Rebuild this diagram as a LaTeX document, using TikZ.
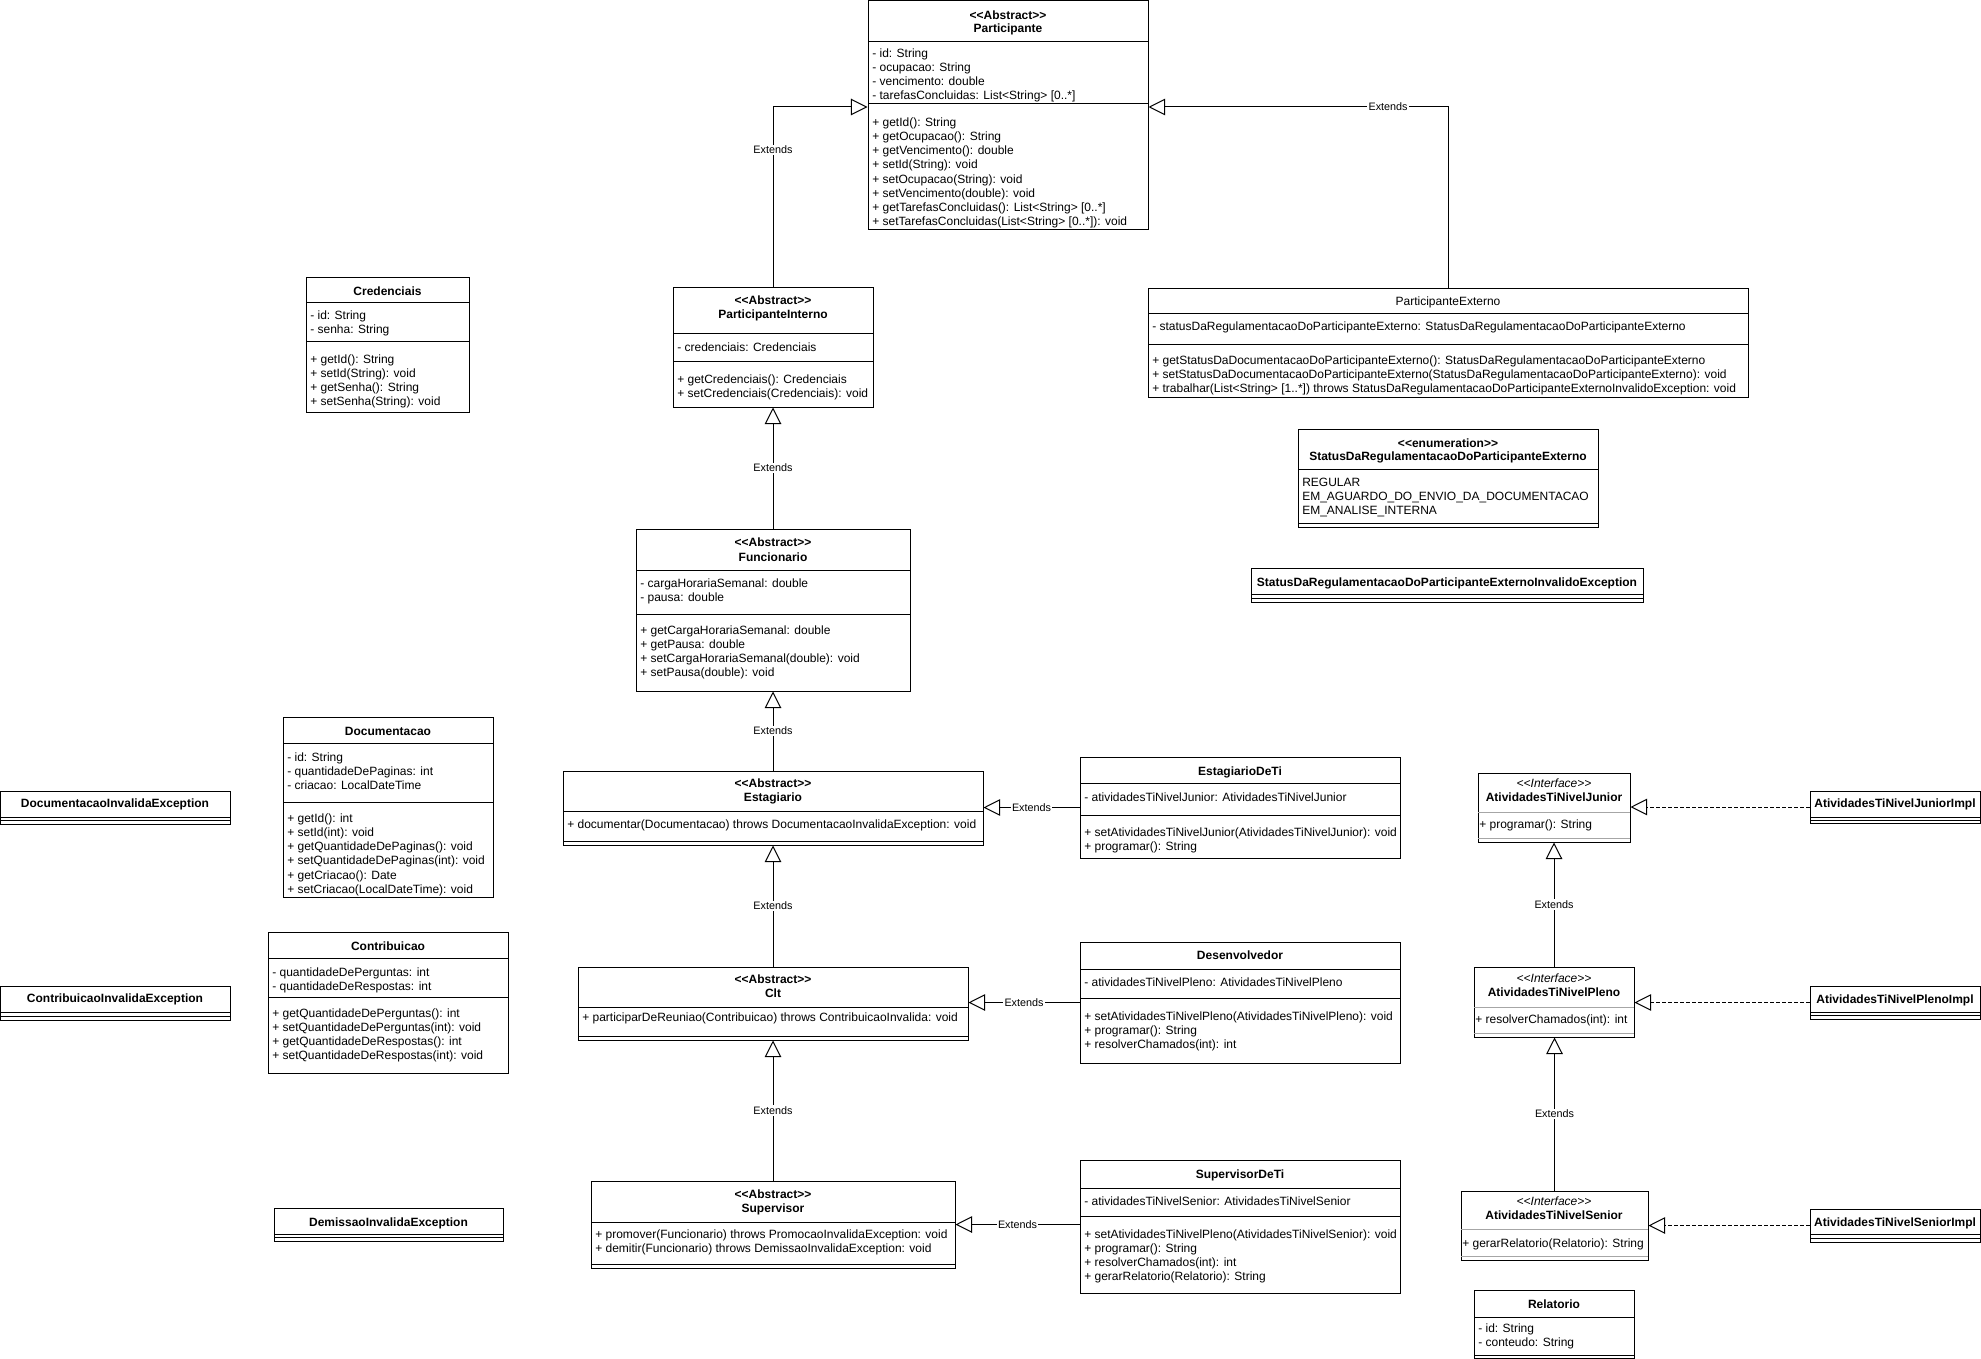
\documentclass[tikz,border=0pt]{standalone}
\usepackage{fontspec}
\setmainfont{Liberation Sans}
\usetikzlibrary{fit,arrows.meta}
\tikzset{
  box/.style={draw, line width=0.75pt, inner sep=0pt, fill=white},
  sep/.style={line width=0.75pt},
  gsep/.style={line width=0.75pt, draw=black!35},
  row/.style={anchor=west, inner sep=0pt, font=\fontsize{9pt}{10.5pt}\selectfont, text height=6.45pt, text depth=0pt},
  hdr/.style={anchor=center, inner sep=0pt, font=\fontsize{9pt}{10.5pt}\selectfont\bfseries, text height=6.45pt, text depth=0pt},
  hdrn/.style={hdr, font=\fontsize{9pt}{10.5pt}\selectfont},
  ster/.style={hdr, font=\fontsize{9pt}{10.5pt}\selectfont\itshape},
  ext/.style={line width=0.75pt, -{Triangle[open, length=12.5pt, width=12.5pt]}},
  real/.style={ext, dash pattern=on 2.5pt off 2pt},
  lbl/.style={fill=white, inner sep=1pt, font=\fontsize{8.1pt}{9pt}\selectfont, text height=5.8pt, text depth=0pt},
}
\newcommand\umlclass[5]{\node[box, fit={(#2,#3)(#4,#5)}] (#1) {};}
\newcommand\divline[3]{\draw[sep] (#1,#3) -- (#2,#3);}
\newcommand\gdivline[3]{\draw[gsep] (#1,#3) -- (#2,#3);}
\newcommand\rows[4]{\foreach \t [count=\i] in {#4}{\node[row] (#1-\i) at (#2,{#3+(\i-1)*14.2}) {\t};}}
\begin{document}
\begin{tikzpicture}[x=0.75pt, y=-0.75pt]
\useasboundingbox (0,0) rectangle (1981,1359);

% Participante
\umlclass{P}{868}{1}{1148}{229}
\divline{868}{1148}{42}\divline{868}{1148}{104}
\node[hdr] (P-s) at (1008,15) {<{}<Abstract>{}>};
\node[hdr] (P-n) at (1008,28) {Participante};
\rows{P-a}{872}{53}{- id: String, - ocupacao: String, - vencimento: double, - tarefasConcluidas: List<String> [0..*]}
\rows{P-m}{872}{122}{+ getId(): String, + getOcupacao(): String, + getVencimento(): double, + setId(String): void, + setOcupacao(String): void, + setVencimento(double): void, + getTarefasConcluidas(): List<String> [0..*], + setTarefasConcluidas(List<String> [0..*]): void}

% ParticipanteInterno
\umlclass{PI}{673}{287}{873}{407}
\divline{673}{873}{333}\divline{673}{873}{361}
\node[hdr] (PI-s) at (773,300) {<{}<Abstract>{}>};
\node[hdr] (PI-n) at (773,314) {ParticipanteInterno};
\rows{PI-a}{677}{347}{- credenciais: Credenciais}
\rows{PI-m}{677}{379}{+ getCredenciais(): Credenciais, + setCredenciais(Credenciais): void}

% Credenciais
\umlclass{CR}{306}{277}{469}{412}
\divline{306}{469}{302}\divline{306}{469}{341}
\node[hdr] (CR-n) at (387.5,291) {Credenciais};
\rows{CR-a}{310}{315}{- id: String, - senha: String}
\rows{CR-m}{310}{359}{+ getId(): String, + setId(String): void, + getSenha(): String, + setSenha(String): void}

% ParticipanteExterno
\umlclass{PE}{1148}{288}{1748}{397}
\divline{1148}{1748}{313}\divline{1148}{1748}{344}
\node[hdrn] (PE-n) at (1448,301) {ParticipanteExterno};
\rows{PE-a}{1152}{326}{- statusDaRegulamentacaoDoParticipanteExterno: StatusDaRegulamentacaoDoParticipanteExterno}
\rows{PE-m}{1152}{360}{+ getStatusDaDocumentacaoDoParticipanteExterno(): StatusDaRegulamentacaoDoParticipanteExterno, + setStatusDaDocumentacaoDoParticipanteExterno(StatusDaRegulamentacaoDoParticipanteExterno): void, + trabalhar(List<String> [1..*]) throws StatusDaRegulamentacaoDoParticipanteExternoInvalidoException: void}

% Enumeration
\umlclass{EN}{1298}{429}{1598}{527}
\divline{1298}{1598}{469}\divline{1298}{1598}{523}
\node[hdr] (EN-s) at (1448,443) {<{}<enumeration>{}>};
\node[hdr] (EN-n) at (1448,456) {StatusDaRegulamentacaoDoParticipanteExterno};
\rows{EN-a}{1302}{482}{REGULAR, EM\_AGUARDO\_DO\_ENVIO\_DA\_DOCUMENTACAO, EM\_ANALISE\_INTERNA}

% Status exception
\umlclass{SE}{1251}{568}{1643}{602}
\divline{1251}{1643}{594}\divline{1251}{1643}{598}
\node[hdr] (SE-n) at (1447,582) {StatusDaRegulamentacaoDoParticipanteExternoInvalidoException};

% Funcionario
\umlclass{FU}{636}{529}{910}{691}
\divline{636}{910}{570}\divline{636}{910}{614}
\node[hdr] (FU-s) at (773,542) {<{}<Abstract>{}>};
\node[hdr] (FU-n) at (773,557) {Funcionario};
\rows{FU-a}{640}{583}{- cargaHorariaSemanal: double, - pausa: double}
\rows{FU-m}{640}{630}{+ getCargaHorariaSemanal: double, + getPausa: double, + setCargaHorariaSemanal(double): void, + setPausa(double): void}

% Documentacao
\umlclass{DO}{283}{717}{493}{897}
\divline{283}{493}{743}\divline{283}{493}{802}
\node[hdr] (DO-n) at (388,731) {Documentacao};
\rows{DO-a}{287}{757}{- id: String, - quantidadeDePaginas: int, - criacao: LocalDateTime}
\rows{DO-m}{287}{818}{+ getId(): int, + setId(int): void, + getQuantidadeDePaginas(): void, + setQuantidadeDePaginas(int): void, + getCriacao(): Date, + setCriacao(LocalDateTime): void}

% DocumentacaoInvalidaException
\umlclass{DE}{0.5}{791}{230}{824}
\divline{0.5}{230}{817}\divline{0.5}{230}{820}
\node[hdr] (DE-n) at (115,803) {DocumentacaoInvalidaException};

% Estagiario
\umlclass{ES}{563}{771}{983}{845}
\divline{563}{983}{811}\divline{563}{983}{841}
\node[hdr] (ES-s) at (773,783) {<{}<Abstract>{}>};
\node[hdr] (ES-n) at (773,797) {Estagiario};
\rows{ES-m}{567}{824}{+ documentar(Documentacao) throws DocumentacaoInvalidaException: void}

% EstagiarioDeTi
\umlclass{EDT}{1080}{757}{1400}{858}
\divline{1080}{1400}{783}\divline{1080}{1400}{815}
\node[hdr] (EDT-n) at (1240,771) {EstagiarioDeTi};
\rows{EDT-a}{1084}{797}{- atividadesTiNivelJunior: AtividadesTiNivelJunior}
\rows{EDT-m}{1084}{832}{+ setAtividadesTiNivelJunior(AtividadesTiNivelJunior): void, + programar(): String}

% Contribuicao
\umlclass{CO}{268}{932}{508}{1073}
\divline{268}{508}{958}\divline{268}{508}{997}
\node[hdr] (CO-n) at (388,946) {Contribuicao};
\rows{CO-a}{272}{972}{- quantidadeDePerguntas: int, - quantidadeDeRespostas: int}
\rows{CO-m}{272}{1013}{+ getQuantidadeDePerguntas(): int, + setQuantidadeDePerguntas(int): void, + getQuantidadeDeRespostas(): int, + setQuantidadeDeRespostas(int): void}

% ContribuicaoInvalidaException
\umlclass{CE}{0.5}{986}{230}{1020}
\divline{0.5}{230}{1012}\divline{0.5}{230}{1016}
\node[hdr] (CE-n) at (115,998) {ContribuicaoInvalidaException};

% Clt
\umlclass{CL}{578}{967}{968}{1040}
\divline{578}{968}{1007}\divline{578}{968}{1036}
\node[hdr] (CL-s) at (773,979) {<{}<Abstract>{}>};
\node[hdr] (CL-n) at (773,993) {Clt};
\rows{CL-m}{582}{1017}{+ participarDeReuniao(Contribuicao) throws ContribuicaoInvalida: void}

% Desenvolvedor
\umlclass{DV}{1080}{942}{1400}{1063}
\divline{1080}{1400}{969}\divline{1080}{1400}{998}
\node[hdr] (DV-n) at (1240,955) {Desenvolvedor};
\rows{DV-a}{1084}{982}{- atividadesTiNivelPleno: AtividadesTiNivelPleno}
\rows{DV-m}{1084}{1016}{+ setAtividadesTiNivelPleno(AtividadesTiNivelPleno): void, + programar(): String, + resolverChamados(int): int}

% Supervisor
\umlclass{SU}{591}{1181}{955}{1268}
\divline{591}{955}{1222}\divline{591}{955}{1264}
\node[hdr] (SU-s) at (773,1194) {<{}<Abstract>{}>};
\node[hdr] (SU-n) at (773,1208) {Supervisor};
\rows{SU-m}{595}{1234}{+ promover(Funcionario) throws PromocaoInvalidaException: void, + demitir(Funcionario) throws DemissaoInvalidaException: void}

% DemissaoInvalidaException
\umlclass{DM}{274}{1208}{503}{1241}
\divline{274}{503}{1234}\divline{274}{503}{1237}
\node[hdr] (DM-n) at (388.5,1222) {DemissaoInvalidaException};

% SupervisorDeTi
\umlclass{SDT}{1080}{1160}{1400}{1293}
\divline{1080}{1400}{1188}\divline{1080}{1400}{1216}
\node[hdr] (SDT-n) at (1240,1174) {SupervisorDeTi};
\rows{SDT-a}{1084}{1201}{- atividadesTiNivelSenior: AtividadesTiNivelSenior}
\rows{SDT-m}{1084}{1234}{+ setAtividadesTiNivelPleno(AtividadesTiNivelSenior): void, + programar(): String, + resolverChamados(int): int, + gerarRelatorio(Relatorio): String}

% Interfaces
\umlclass{AJ}{1478}{773}{1630}{842}
\gdivline{1478}{1630}{812}\gdivline{1478}{1630}{838}
\node[ster] (AJ-s) at (1554,783) {<{}<Interface>{}>};
\node[hdr] (AJ-n) at (1554,797) {AtividadesTiNivelJunior};
\rows{AJ-m}{1479}{824}{+ programar(): String}

\umlclass{AJI}{1810}{791}{1980}{823}
\divline{1810}{1980}{817}\divline{1810}{1980}{820}
\node[hdr] (AJI-n) at (1895,803) {AtividadesTiNivelJuniorImpl};

\umlclass{AP}{1474}{967}{1634}{1037}
\gdivline{1474}{1634}{1007}\gdivline{1474}{1634}{1033}
\node[ster] (AP-s) at (1554,978) {<{}<Interface>{}>};
\node[hdr] (AP-n) at (1554,992) {AtividadesTiNivelPleno};
\rows{AP-m}{1475}{1019}{+ resolverChamados(int): int}

\umlclass{API}{1810}{986}{1980}{1019}
\divline{1810}{1980}{1012}\divline{1810}{1980}{1015}
\node[hdr] (API-n) at (1895,999) {AtividadesTiNivelPlenoImpl};

\umlclass{AS}{1461}{1191}{1648}{1260}
\gdivline{1461}{1648}{1229}\gdivline{1461}{1648}{1256}
\node[ster] (AS-s) at (1554,1201) {<{}<Interface>{}>};
\node[hdr] (AS-n) at (1554,1215) {AtividadesTiNivelSenior};
\rows{AS-m}{1462}{1243}{+ gerarRelatorio(Relatorio): String}

\umlclass{ASI}{1810}{1209}{1980}{1242}
\divline{1810}{1980}{1234}\divline{1810}{1980}{1238}
\node[hdr] (ASI-n) at (1895,1222) {AtividadesTiNivelSeniorImpl};

% Relatorio
\umlclass{RE}{1474}{1290}{1634}{1358}
\divline{1474}{1634}{1317}\divline{1474}{1634}{1355}
\node[hdr] (RE-n) at (1554,1304) {Relatorio};
\rows{RE-a}{1478}{1328}{- id: String, - conteudo: String}

% Connectors
\draw[ext] (PI.north) |- node[lbl, pos=0.38] {Extends} (P.west |- 0,107);
\draw[ext] (PE.north) |- node[lbl, pos=0.6] {Extends} (P.east |- 0,107);
\draw[ext] (FU.north) -- node[lbl] {Extends} (PI.south);
\draw[ext] (ES.north) -- node[lbl] {Extends} (FU.south);
\draw[ext] (CL.north) -- node[lbl] {Extends} (ES.south);
\draw[ext] (SU.north) -- node[lbl] {Extends} (CL.south);
\draw[ext] (EDT.west) -- node[lbl] {Extends} (EDT.west -| ES.east);
\draw[ext] (DV.west) -- node[lbl] {Extends} (DV.west -| CL.east);
\draw[ext] (SDT.west |- SU.east) -- node[lbl] {Extends} (SU.east);
\draw[ext] (AP.north) -- node[lbl] {Extends} (AP.north |- AJ.south);
\draw[ext] (AS.north) -- node[lbl] {Extends} (AS.north |- AP.south);
\draw[real] (AJI.west) -- (AJI.west -| AJ.east);
\draw[real] (API.west) -- (API.west -| AP.east);
\draw[real] (ASI.west) -- (ASI.west -| AS.east);
\end{tikzpicture}
\end{document}
